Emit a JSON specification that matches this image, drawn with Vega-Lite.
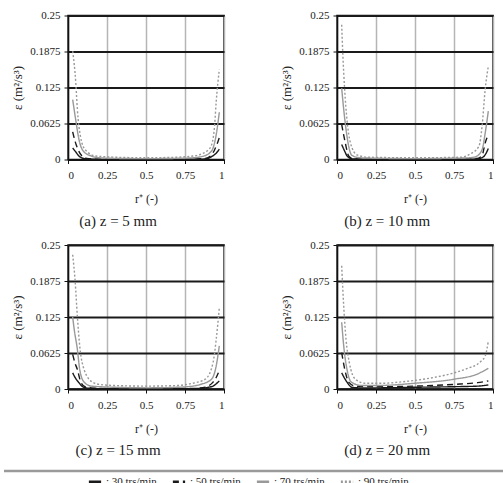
{
  "$schema": "https://vega.github.io/schema/vega-lite/v6.json",
  "padding": {"left": 0, "right": 0, "top": 8.5, "bottom": 0},
  "background": "white",
  "datasets": {
    "d": [
      {"p":"a","s":"30 trs/min","x":0.03,"y":0.02},{"p":"a","s":"30 trs/min","x":0.05,"y":0.013},{"p":"a","s":"30 trs/min","x":0.07,"y":0.006},{"p":"a","s":"30 trs/min","x":0.1,"y":0.002},{"p":"a","s":"30 trs/min","x":0.15,"y":0.0005},{"p":"a","s":"30 trs/min","x":0.3,"y":0.0002},{"p":"a","s":"30 trs/min","x":0.5,"y":0.0002},{"p":"a","s":"30 trs/min","x":0.7,"y":0.0002},{"p":"a","s":"30 trs/min","x":0.85,"y":0.0005},{"p":"a","s":"30 trs/min","x":0.9,"y":0.002},{"p":"a","s":"30 trs/min","x":0.92,"y":0.005},{"p":"a","s":"30 trs/min","x":0.95,"y":0.011},{"p":"a","s":"30 trs/min","x":0.97,"y":0.018},
      {"p":"a","s":"50 trs/min","x":0.03,"y":0.048},{"p":"a","s":"50 trs/min","x":0.045,"y":0.032},{"p":"a","s":"50 trs/min","x":0.06,"y":0.02},{"p":"a","s":"50 trs/min","x":0.09,"y":0.006},{"p":"a","s":"50 trs/min","x":0.12,"y":0.002},{"p":"a","s":"50 trs/min","x":0.2,"y":0.0005},{"p":"a","s":"50 trs/min","x":0.5,"y":0.0003},{"p":"a","s":"50 trs/min","x":0.8,"y":0.0005},{"p":"a","s":"50 trs/min","x":0.88,"y":0.002},{"p":"a","s":"50 trs/min","x":0.92,"y":0.008},{"p":"a","s":"50 trs/min","x":0.94,"y":0.017},{"p":"a","s":"50 trs/min","x":0.96,"y":0.03},{"p":"a","s":"50 trs/min","x":0.97,"y":0.038},
      {"p":"a","s":"70 trs/min","x":0.03,"y":0.104},{"p":"a","s":"70 trs/min","x":0.05,"y":0.068},{"p":"a","s":"70 trs/min","x":0.07,"y":0.035},{"p":"a","s":"70 trs/min","x":0.1,"y":0.014},{"p":"a","s":"70 trs/min","x":0.15,"y":0.006},{"p":"a","s":"70 trs/min","x":0.2,"y":0.003},{"p":"a","s":"70 trs/min","x":0.3,"y":0.002},{"p":"a","s":"70 trs/min","x":0.5,"y":0.0015},{"p":"a","s":"70 trs/min","x":0.7,"y":0.002},{"p":"a","s":"70 trs/min","x":0.8,"y":0.003},{"p":"a","s":"70 trs/min","x":0.87,"y":0.006},{"p":"a","s":"70 trs/min","x":0.91,"y":0.012},{"p":"a","s":"70 trs/min","x":0.93,"y":0.02},{"p":"a","s":"70 trs/min","x":0.95,"y":0.043},{"p":"a","s":"70 trs/min","x":0.97,"y":0.082},
      {"p":"a","s":"90 trs/min","x":0.03,"y":0.188},{"p":"a","s":"90 trs/min","x":0.05,"y":0.133},{"p":"a","s":"90 trs/min","x":0.06,"y":0.087},{"p":"a","s":"90 trs/min","x":0.08,"y":0.04},{"p":"a","s":"90 trs/min","x":0.11,"y":0.017},{"p":"a","s":"90 trs/min","x":0.18,"y":0.006},{"p":"a","s":"90 trs/min","x":0.3,"y":0.004},{"p":"a","s":"90 trs/min","x":0.5,"y":0.003},{"p":"a","s":"90 trs/min","x":0.7,"y":0.004},{"p":"a","s":"90 trs/min","x":0.8,"y":0.006},{"p":"a","s":"90 trs/min","x":0.86,"y":0.01},{"p":"a","s":"90 trs/min","x":0.9,"y":0.017},{"p":"a","s":"90 trs/min","x":0.92,"y":0.025},{"p":"a","s":"90 trs/min","x":0.94,"y":0.06},{"p":"a","s":"90 trs/min","x":0.95,"y":0.1},{"p":"a","s":"90 trs/min","x":0.97,"y":0.156},

      {"p":"b","s":"30 trs/min","x":0.03,"y":0.026},{"p":"b","s":"30 trs/min","x":0.05,"y":0.014},{"p":"b","s":"30 trs/min","x":0.065,"y":0.006},{"p":"b","s":"30 trs/min","x":0.1,"y":0.001},{"p":"b","s":"30 trs/min","x":0.2,"y":0.0003},{"p":"b","s":"30 trs/min","x":0.5,"y":0.0002},{"p":"b","s":"30 trs/min","x":0.8,"y":0.0003},{"p":"b","s":"30 trs/min","x":0.9,"y":0.001},{"p":"b","s":"30 trs/min","x":0.94,"y":0.005},{"p":"b","s":"30 trs/min","x":0.97,"y":0.019},
      {"p":"b","s":"50 trs/min","x":0.03,"y":0.061},{"p":"b","s":"50 trs/min","x":0.053,"y":0.029},{"p":"b","s":"50 trs/min","x":0.075,"y":0.006},{"p":"b","s":"50 trs/min","x":0.1,"y":0.002},{"p":"b","s":"50 trs/min","x":0.2,"y":0.0005},{"p":"b","s":"50 trs/min","x":0.5,"y":0.0003},{"p":"b","s":"50 trs/min","x":0.8,"y":0.0005},{"p":"b","s":"50 trs/min","x":0.9,"y":0.002},{"p":"b","s":"50 trs/min","x":0.93,"y":0.007},{"p":"b","s":"50 trs/min","x":0.95,"y":0.029},{"p":"b","s":"50 trs/min","x":0.97,"y":0.043},
      {"p":"b","s":"70 trs/min","x":0.03,"y":0.124},{"p":"b","s":"70 trs/min","x":0.043,"y":0.087},{"p":"b","s":"70 trs/min","x":0.058,"y":0.052},{"p":"b","s":"70 trs/min","x":0.075,"y":0.023},{"p":"b","s":"70 trs/min","x":0.096,"y":0.007},{"p":"b","s":"70 trs/min","x":0.15,"y":0.003},{"p":"b","s":"70 trs/min","x":0.3,"y":0.002},{"p":"b","s":"70 trs/min","x":0.5,"y":0.0015},{"p":"b","s":"70 trs/min","x":0.7,"y":0.002},{"p":"b","s":"70 trs/min","x":0.85,"y":0.003},{"p":"b","s":"70 trs/min","x":0.89,"y":0.005},{"p":"b","s":"70 trs/min","x":0.93,"y":0.017},{"p":"b","s":"70 trs/min","x":0.95,"y":0.046},{"p":"b","s":"70 trs/min","x":0.97,"y":0.084},
      {"p":"b","s":"90 trs/min","x":0.03,"y":0.234},{"p":"b","s":"90 trs/min","x":0.037,"y":0.185},{"p":"b","s":"90 trs/min","x":0.049,"y":0.122},{"p":"b","s":"90 trs/min","x":0.064,"y":0.069},{"p":"b","s":"90 trs/min","x":0.086,"y":0.029},{"p":"b","s":"90 trs/min","x":0.128,"y":0.008},{"p":"b","s":"90 trs/min","x":0.2,"y":0.004},{"p":"b","s":"90 trs/min","x":0.5,"y":0.003},{"p":"b","s":"90 trs/min","x":0.8,"y":0.004},{"p":"b","s":"90 trs/min","x":0.85,"y":0.009},{"p":"b","s":"90 trs/min","x":0.91,"y":0.023},{"p":"b","s":"90 trs/min","x":0.93,"y":0.058},{"p":"b","s":"90 trs/min","x":0.95,"y":0.122},{"p":"b","s":"90 trs/min","x":0.97,"y":0.162},

      {"p":"c","s":"30 trs/min","x":0.03,"y":0.028},{"p":"c","s":"30 trs/min","x":0.05,"y":0.018},{"p":"c","s":"30 trs/min","x":0.07,"y":0.011},{"p":"c","s":"30 trs/min","x":0.1,"y":0.003},{"p":"c","s":"30 trs/min","x":0.15,"y":0.001},{"p":"c","s":"30 trs/min","x":0.3,"y":0.0003},{"p":"c","s":"30 trs/min","x":0.5,"y":0.0003},{"p":"c","s":"30 trs/min","x":0.7,"y":0.0003},{"p":"c","s":"30 trs/min","x":0.85,"y":0.001},{"p":"c","s":"30 trs/min","x":0.9,"y":0.003},{"p":"c","s":"30 trs/min","x":0.93,"y":0.005},{"p":"c","s":"30 trs/min","x":0.95,"y":0.009},{"p":"c","s":"30 trs/min","x":0.97,"y":0.014},
      {"p":"c","s":"50 trs/min","x":0.03,"y":0.06},{"p":"c","s":"50 trs/min","x":0.045,"y":0.045},{"p":"c","s":"50 trs/min","x":0.06,"y":0.034},{"p":"c","s":"50 trs/min","x":0.082,"y":0.012},{"p":"c","s":"50 trs/min","x":0.11,"y":0.004},{"p":"c","s":"50 trs/min","x":0.2,"y":0.001},{"p":"c","s":"50 trs/min","x":0.5,"y":0.0008},{"p":"c","s":"50 trs/min","x":0.8,"y":0.001},{"p":"c","s":"50 trs/min","x":0.88,"y":0.003},{"p":"c","s":"50 trs/min","x":0.905,"y":0.006},{"p":"c","s":"50 trs/min","x":0.93,"y":0.012},{"p":"c","s":"50 trs/min","x":0.95,"y":0.02},{"p":"c","s":"50 trs/min","x":0.97,"y":0.032},
      {"p":"c","s":"70 trs/min","x":0.03,"y":0.125},{"p":"c","s":"70 trs/min","x":0.04,"y":0.103},{"p":"c","s":"70 trs/min","x":0.06,"y":0.069},{"p":"c","s":"70 trs/min","x":0.075,"y":0.034},{"p":"c","s":"70 trs/min","x":0.103,"y":0.012},{"p":"c","s":"70 trs/min","x":0.15,"y":0.005},{"p":"c","s":"70 trs/min","x":0.3,"y":0.003},{"p":"c","s":"70 trs/min","x":0.5,"y":0.002},{"p":"c","s":"70 trs/min","x":0.7,"y":0.003},{"p":"c","s":"70 trs/min","x":0.8,"y":0.005},{"p":"c","s":"70 trs/min","x":0.85,"y":0.008},{"p":"c","s":"70 trs/min","x":0.92,"y":0.017},{"p":"c","s":"70 trs/min","x":0.95,"y":0.04},{"p":"c","s":"70 trs/min","x":0.97,"y":0.075},
      {"p":"c","s":"90 trs/min","x":0.03,"y":0.233},{"p":"c","s":"90 trs/min","x":0.045,"y":0.19},{"p":"c","s":"90 trs/min","x":0.06,"y":0.126},{"p":"c","s":"90 trs/min","x":0.075,"y":0.075},{"p":"c","s":"90 trs/min","x":0.103,"y":0.034},{"p":"c","s":"90 trs/min","x":0.156,"y":0.012},{"p":"c","s":"90 trs/min","x":0.2,"y":0.008},{"p":"c","s":"90 trs/min","x":0.3,"y":0.006},{"p":"c","s":"90 trs/min","x":0.5,"y":0.005},{"p":"c","s":"90 trs/min","x":0.7,"y":0.006},{"p":"c","s":"90 trs/min","x":0.78,"y":0.009},{"p":"c","s":"90 trs/min","x":0.88,"y":0.017},{"p":"c","s":"90 trs/min","x":0.93,"y":0.046},{"p":"c","s":"90 trs/min","x":0.95,"y":0.086},{"p":"c","s":"90 trs/min","x":0.97,"y":0.141},

      {"p":"d","s":"30 trs/min","x":0.03,"y":0.028},{"p":"d","s":"30 trs/min","x":0.064,"y":0.012},{"p":"d","s":"30 trs/min","x":0.096,"y":0.003},{"p":"d","s":"30 trs/min","x":0.15,"y":0.002},{"p":"d","s":"30 trs/min","x":0.25,"y":0.002},{"p":"d","s":"30 trs/min","x":0.5,"y":0.003},{"p":"d","s":"30 trs/min","x":0.75,"y":0.004},{"p":"d","s":"30 trs/min","x":0.9,"y":0.005},{"p":"d","s":"30 trs/min","x":0.97,"y":0.007},
      {"p":"d","s":"50 trs/min","x":0.03,"y":0.063},{"p":"d","s":"50 trs/min","x":0.05,"y":0.034},{"p":"d","s":"50 trs/min","x":0.075,"y":0.012},{"p":"d","s":"50 trs/min","x":0.118,"y":0.005},{"p":"d","s":"50 trs/min","x":0.25,"y":0.004},{"p":"d","s":"50 trs/min","x":0.5,"y":0.005},{"p":"d","s":"50 trs/min","x":0.75,"y":0.008},{"p":"d","s":"50 trs/min","x":0.9,"y":0.011},{"p":"d","s":"50 trs/min","x":0.97,"y":0.014},
      {"p":"d","s":"70 trs/min","x":0.03,"y":0.116},{"p":"d","s":"70 trs/min","x":0.043,"y":0.075},{"p":"d","s":"70 trs/min","x":0.064,"y":0.034},{"p":"d","s":"70 trs/min","x":0.092,"y":0.012},{"p":"d","s":"70 trs/min","x":0.16,"y":0.006},{"p":"d","s":"70 trs/min","x":0.25,"y":0.006},{"p":"d","s":"70 trs/min","x":0.5,"y":0.01},{"p":"d","s":"70 trs/min","x":0.75,"y":0.017},{"p":"d","s":"70 trs/min","x":0.9,"y":0.026},{"p":"d","s":"70 trs/min","x":0.97,"y":0.036},
      {"p":"d","s":"90 trs/min","x":0.03,"y":0.214},{"p":"d","s":"90 trs/min","x":0.043,"y":0.144},{"p":"d","s":"90 trs/min","x":0.058,"y":0.086},{"p":"d","s":"90 trs/min","x":0.079,"y":0.046},{"p":"d","s":"90 trs/min","x":0.118,"y":0.017},{"p":"d","s":"90 trs/min","x":0.18,"y":0.01},{"p":"d","s":"90 trs/min","x":0.3,"y":0.01},{"p":"d","s":"90 trs/min","x":0.4,"y":0.012},{"p":"d","s":"90 trs/min","x":0.5,"y":0.015},{"p":"d","s":"90 trs/min","x":0.6,"y":0.019},{"p":"d","s":"90 trs/min","x":0.75,"y":0.028},{"p":"d","s":"90 trs/min","x":0.85,"y":0.037},{"p":"d","s":"90 trs/min","x":0.9,"y":0.043},{"p":"d","s":"90 trs/min","x":0.93,"y":0.05},{"p":"d","s":"90 trs/min","x":0.95,"y":0.057},{"p":"d","s":"90 trs/min","x":0.97,"y":0.083}
    ]
  },
  "concat": [
    {
      "width": 156, "height": 144,
      "data": {"name": "d"},
      "transform": [{"filter": "datum.p == 'a'"}],
      "title": {"text": "(a) z = 5 mm", "orient": "bottom", "frame": "bounds"},
      "mark": {"type": "line", "strokeWidth": 1.4, "interpolate": "monotone"},
      "encoding": {
        "x": {"field": "x", "type": "quantitative", "scale": {"domain": [0, 1]}, "axis": {"values": [0, 0.25, 0.5, 0.75, 1], "labelExpr": "'' + datum.value", "title": "r⁺ (-)"}},
        "y": {"field": "y", "type": "quantitative", "scale": {"domain": [0, 0.25]}, "axis": {"values": [0, 0.0625, 0.125, 0.1875, 0.25], "labelExpr": "'' + datum.value", "title": "ε (m²/s³)"}},
        "color": {"field": "s", "type": "nominal", "scale": {"domain": ["30 trs/min", "50 trs/min", "70 trs/min", "90 trs/min"], "range": ["#1a1a1a", "#1a1a1a", "#999999", "#999999"]}, "legend": {"orient": "none", "legendX": 19, "legendY": 458.5, "direction": "horizontal", "title": null, "labelExpr": "': ' + datum.label"}},
        "strokeDash": {"field": "s", "type": "nominal", "scale": {"domain": ["30 trs/min", "50 trs/min", "70 trs/min", "90 trs/min"], "range": [[1, 0], [6, 4], [1, 0], [2, 2]]}, "legend": {"orient": "none", "legendX": 19, "legendY": 458.5, "direction": "horizontal", "title": null, "labelExpr": "': ' + datum.label"}}
      }
    },
    {
      "width": 156, "height": 144,
      "data": {"name": "d"},
      "transform": [{"filter": "datum.p == 'b'"}],
      "title": {"text": "(b) z = 10 mm", "orient": "bottom", "frame": "bounds"},
      "mark": {"type": "line", "strokeWidth": 1.4, "interpolate": "monotone"},
      "encoding": {
        "x": {"field": "x", "type": "quantitative", "scale": {"domain": [0, 1]}, "axis": {"values": [0, 0.25, 0.5, 0.75, 1], "labelExpr": "'' + datum.value", "title": "r⁺ (-)"}},
        "y": {"field": "y", "type": "quantitative", "scale": {"domain": [0, 0.25]}, "axis": {"values": [0, 0.0625, 0.125, 0.1875, 0.25], "labelExpr": "'' + datum.value", "title": "ε (m²/s³)"}},
        "color": {"field": "s", "type": "nominal", "scale": {"domain": ["30 trs/min", "50 trs/min", "70 trs/min", "90 trs/min"], "range": ["#1a1a1a", "#1a1a1a", "#999999", "#999999"]}, "legend": {"orient": "none", "legendX": 19, "legendY": 458.5, "direction": "horizontal", "title": null, "labelExpr": "': ' + datum.label"}},
        "strokeDash": {"field": "s", "type": "nominal", "scale": {"domain": ["30 trs/min", "50 trs/min", "70 trs/min", "90 trs/min"], "range": [[1, 0], [6, 4], [1, 0], [2, 2]]}, "legend": {"orient": "none", "legendX": 19, "legendY": 458.5, "direction": "horizontal", "title": null, "labelExpr": "': ' + datum.label"}}
      }
    },
    {
      "width": 156, "height": 144,
      "data": {"name": "d"},
      "transform": [{"filter": "datum.p == 'c'"}],
      "title": {"text": "(c) z = 15 mm", "orient": "bottom", "frame": "bounds"},
      "mark": {"type": "line", "strokeWidth": 1.4, "interpolate": "monotone"},
      "encoding": {
        "x": {"field": "x", "type": "quantitative", "scale": {"domain": [0, 1]}, "axis": {"values": [0, 0.25, 0.5, 0.75, 1], "labelExpr": "'' + datum.value", "title": "r⁺ (-)"}},
        "y": {"field": "y", "type": "quantitative", "scale": {"domain": [0, 0.25]}, "axis": {"values": [0, 0.0625, 0.125, 0.1875, 0.25], "labelExpr": "'' + datum.value", "title": "ε (m²/s³)"}},
        "color": {"field": "s", "type": "nominal", "scale": {"domain": ["30 trs/min", "50 trs/min", "70 trs/min", "90 trs/min"], "range": ["#1a1a1a", "#1a1a1a", "#999999", "#999999"]}, "legend": {"orient": "none", "legendX": 19, "legendY": 458.5, "direction": "horizontal", "title": null, "labelExpr": "': ' + datum.label"}},
        "strokeDash": {"field": "s", "type": "nominal", "scale": {"domain": ["30 trs/min", "50 trs/min", "70 trs/min", "90 trs/min"], "range": [[1, 0], [6, 4], [1, 0], [2, 2]]}, "legend": {"orient": "none", "legendX": 19, "legendY": 458.5, "direction": "horizontal", "title": null, "labelExpr": "': ' + datum.label"}}
      }
    },
    {
      "width": 156, "height": 144,
      "data": {"name": "d"},
      "transform": [{"filter": "datum.p == 'd'"}],
      "title": {"text": "(d) z = 20 mm", "orient": "bottom", "frame": "bounds"},
      "mark": {"type": "line", "strokeWidth": 1.4, "interpolate": "monotone"},
      "encoding": {
        "x": {"field": "x", "type": "quantitative", "scale": {"domain": [0, 1]}, "axis": {"values": [0, 0.25, 0.5, 0.75, 1], "labelExpr": "'' + datum.value", "title": "r⁺ (-)"}},
        "y": {"field": "y", "type": "quantitative", "scale": {"domain": [0, 0.25]}, "axis": {"values": [0, 0.0625, 0.125, 0.1875, 0.25], "labelExpr": "'' + datum.value", "title": "ε (m²/s³)"}},
        "color": {"field": "s", "type": "nominal", "scale": {"domain": ["30 trs/min", "50 trs/min", "70 trs/min", "90 trs/min"], "range": ["#1a1a1a", "#1a1a1a", "#999999", "#999999"]}, "legend": {"orient": "none", "legendX": 19, "legendY": 458.5, "direction": "horizontal", "title": null, "labelExpr": "': ' + datum.label"}},
        "strokeDash": {"field": "s", "type": "nominal", "scale": {"domain": ["30 trs/min", "50 trs/min", "70 trs/min", "90 trs/min"], "range": [[1, 0], [6, 4], [1, 0], [2, 2]]}, "legend": {"orient": "none", "legendX": 19, "legendY": 458.5, "direction": "horizontal", "title": null, "labelExpr": "': ' + datum.label"}}
      }
    },
    {
      "width": 156, "height": 1,
      "view": {"stroke": null},
      "data": {"values": [{"v": 0}]},
      "mark": {"type": "point", "opacity": 0},
      "encoding": {
        "x": {"field": "v", "type": "quantitative", "scale": {"domain": [0, 1], "range": [-64.5, 438.5]}, "axis": {"orient": "top", "offset": 4, "domainColor": "#9a9a9a", "domainWidth": 2.5, "labels": false, "ticks": false, "grid": false, "title": null}}
      }
    }
  ],
  "columns": 2,
  "spacing": {"row": 85.5, "column": 113},
  "bounds": "flush",
  "resolve": {"scale": {"color": "shared", "strokeDash": "shared"}, "legend": {"color": "shared", "strokeDash": "shared"}},
  "config": {
    "font": "Liberation Serif",
    "view": {"stroke": "#111111", "strokeWidth": 1.5},
    "axis": {
      "labelFont": "Liberation Serif", "labelFontSize": 11, "labelColor": "#222222",
      "titleFont": "Liberation Serif", "titleFontSize": 12, "titleFontWeight": "normal", "titleColor": "#222222",
      "domainColor": "#111111", "domainWidth": 1.5, "tickColor": "#111111", "tickWidth": 1
    },
    "axisX": {"gridColor": "#b5b5b5", "gridWidth": 1.5, "gridOpacity": 1, "tickSize": 4, "labelPadding": 6, "titlePadding": 13},
    "axisY": {"gridColor": "#1a1a1a", "gridWidth": 1.8, "gridOpacity": 1, "tickSize": 4, "labelPadding": 4, "titlePadding": 5, "titleFontSize": 13},
    "title": {"font": "Liberation Serif", "fontSize": 15, "fontWeight": "normal", "color": "#222222", "offset": 9},
    "legend": {"labelFont": "Liberation Serif", "labelFontSize": 11, "labelColor": "#222222", "symbolType": "stroke", "symbolStrokeWidth": 3, "symbolSize": 150, "columnPadding": 9, "labelOffset": 3}
  }
}
